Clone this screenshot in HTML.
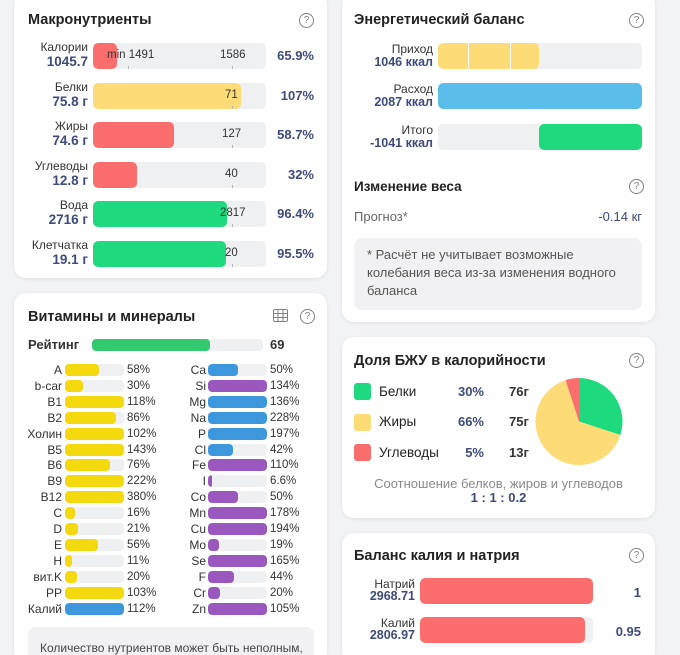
<!DOCTYPE html>
<html style="height:655px;overflow:hidden"><head><meta charset="utf-8"><style>
*{margin:0;padding:0;box-sizing:border-box}
html{background:#f2f3f5}
body{width:680px;height:655px;overflow:hidden;background:#f2f3f5;font-family:"Liberation Sans","DejaVu Sans",sans-serif;color:#333;position:relative}
.card{position:absolute;background:#fff;border-radius:12px;box-shadow:0 1px 4px rgba(0,0,0,0.08)}
.a{position:absolute;white-space:nowrap}
.t{font-size:14.5px;font-weight:bold;color:#222;line-height:18px}
.help{position:absolute;width:15px;height:15px;border:1px solid #808080;border-radius:50%;font-size:10px;line-height:13px;text-align:center;color:#808080}
.track{position:absolute;background:#eff0f2;border-radius:5px;overflow:hidden}
.fill{position:absolute;left:0;top:0;bottom:0;border-radius:5px}
.lab{font-size:12px;line-height:14px;color:#333;text-align:right}
.val{font-size:13.5px;line-height:15px;font-weight:bold;color:#3d4a7c;text-align:right}
.pct{font-size:13px;line-height:16px;font-weight:bold;color:#3d4a7c;text-align:right}
.mk{font-size:11.5px;line-height:14px;color:#333}
.tick{position:absolute;width:1px;height:3px;background:#b5b5b5}
.vl{font-size:12px;line-height:14px;color:#333;text-align:right}
.vp{font-size:11.5px;line-height:14px;color:#333}
.vt{position:absolute;height:12px;width:59px;background:#eff0f2;border-radius:4px;overflow:hidden}
.vf{position:absolute;left:0;top:0;bottom:0;border-radius:4px}
.y{background:#f4d90e}.b{background:#3c97dc}.p{background:#9a57bd}
</style></head><body>

<!-- Card 1: Макронутриенты -->
<div class="card" style="left:14px;top:-6px;width:313px;height:284px"></div>
<div class="a t" style="left:28px;top:11px">Макронутриенты</div>
<div class="help" style="left:299px;top:13px">?</div>

<div class="a lab" style="right:592px;top:40px">Калории</div>
<div class="a val" style="right:592px;top:54px">1045.7</div>
<div class="track" style="left:93px;top:43px;width:173px;height:26px"><div class="fill" style="width:24px;background:#fc6e6e"></div></div>
<div class="a mk" style="left:107px;top:48px">min 1491</div>
<div class="tick" style="left:128px;top:66px"></div>
<div class="a mk" style="left:220px;top:48px">1586</div>
<div class="tick" style="left:232px;top:66px"></div>
<div class="a pct" style="right:366px;top:48px">65.9%</div>

<div class="a lab" style="right:592px;top:79.5px">Белки</div>
<div class="a val" style="right:592px;top:93.5px">75.8 г</div>
<div class="track" style="left:93px;top:82.5px;width:173px;height:26px"><div class="fill" style="width:148px;background:#fddc77"></div></div>
<div class="a mk" style="left:225px;top:87.5px">71</div>
<div class="tick" style="left:232px;top:105.5px"></div>
<div class="a pct" style="right:366px;top:87.5px">107%</div>

<div class="a lab" style="right:592px;top:119px">Жиры</div>
<div class="a val" style="right:592px;top:133px">74.6 г</div>
<div class="track" style="left:93px;top:122px;width:173px;height:26px"><div class="fill" style="width:81px;background:#fc6e6e"></div></div>
<div class="a mk" style="left:222px;top:127px">127</div>
<div class="tick" style="left:232px;top:145px"></div>
<div class="a pct" style="right:366px;top:127px">58.7%</div>

<div class="a lab" style="right:592px;top:158.5px">Углеводы</div>
<div class="a val" style="right:592px;top:172.5px">12.8 г</div>
<div class="track" style="left:93px;top:161.5px;width:173px;height:26px"><div class="fill" style="width:44px;background:#fc6e6e"></div></div>
<div class="a mk" style="left:225px;top:166.5px">40</div>
<div class="tick" style="left:232px;top:184.5px"></div>
<div class="a pct" style="right:366px;top:166.5px">32%</div>

<div class="a lab" style="right:592px;top:198px">Вода</div>
<div class="a val" style="right:592px;top:212px">2716 г</div>
<div class="track" style="left:93px;top:201px;width:173px;height:26px"><div class="fill" style="width:134px;background:#1fd97f"></div></div>
<div class="a mk" style="left:220px;top:206px">2817</div>
<div class="tick" style="left:232px;top:224px"></div>
<div class="a pct" style="right:366px;top:206px">96.4%</div>

<div class="a lab" style="right:592px;top:237.5px">Клетчатка</div>
<div class="a val" style="right:592px;top:251.5px">19.1 г</div>
<div class="track" style="left:93px;top:240.5px;width:173px;height:26px"><div class="fill" style="width:133px;background:#1fd97f"></div></div>
<div class="a mk" style="left:225px;top:245.5px">20</div>
<div class="tick" style="left:232px;top:263.5px"></div>
<div class="a pct" style="right:366px;top:245.5px">95.5%</div>

<!-- Card 2: Витамины -->
<div class="card" style="left:14px;top:293px;width:313px;height:370px"></div>
<div class="a t" style="left:28px;top:307.5px">Витамины и минералы</div>
<svg class="a" style="left:273px;top:309px" width="15" height="13" viewBox="0 0 15 13">
<rect x="0.5" y="0.5" width="14" height="12" rx="1.5" fill="none" stroke="#808080" stroke-width="1"/>
<line x1="0.5" y1="4.5" x2="14.5" y2="4.5" stroke="#808080"/><line x1="0.5" y1="8.5" x2="14.5" y2="8.5" stroke="#808080"/>
<line x1="5" y1="0.5" x2="5" y2="12.5" stroke="#808080"/><line x1="10" y1="0.5" x2="10" y2="12.5" stroke="#808080"/>
</svg>
<div class="help" style="left:300px;top:309px">?</div>

<div class="a" style="left:28px;top:337px;font-size:13px;font-weight:bold;color:#333;line-height:16px">Рейтинг</div>
<div class="track" style="left:92px;top:339px;width:171px;height:12px;border-radius:4px"><div class="fill" style="width:118px;background:#33c96e;border-radius:4px"></div></div>
<div class="a" style="left:270px;top:337px;font-size:13px;font-weight:bold;color:#333;line-height:16px">69</div>

<div class="a" style="left:0;top:362px;width:340px">
<div style="position:relative">
<div class="a vl" style="right:278px;top:1px">A</div><div class="vt" style="left:65px;top:2px"><div class="vf y" style="width:34px"></div></div><div class="a vp" style="left:127px;top:1px">58%</div>
<div class="a vl" style="right:278px;top:16.9px">b-car</div><div class="vt" style="left:65px;top:17.9px"><div class="vf y" style="width:18px"></div></div><div class="a vp" style="left:127px;top:16.9px">30%</div>
<div class="a vl" style="right:278px;top:32.8px">B1</div><div class="vt" style="left:65px;top:33.8px"><div class="vf y" style="width:59px"></div></div><div class="a vp" style="left:127px;top:32.8px">118%</div>
<div class="a vl" style="right:278px;top:48.7px">B2</div><div class="vt" style="left:65px;top:49.7px"><div class="vf y" style="width:51px"></div></div><div class="a vp" style="left:127px;top:48.7px">86%</div>
<div class="a vl" style="right:278px;top:64.6px">Холин</div><div class="vt" style="left:65px;top:65.6px"><div class="vf y" style="width:59px"></div></div><div class="a vp" style="left:127px;top:64.6px">102%</div>
<div class="a vl" style="right:278px;top:80.5px">B5</div><div class="vt" style="left:65px;top:81.5px"><div class="vf y" style="width:59px"></div></div><div class="a vp" style="left:127px;top:80.5px">143%</div>
<div class="a vl" style="right:278px;top:96.4px">B6</div><div class="vt" style="left:65px;top:97.4px"><div class="vf y" style="width:45px"></div></div><div class="a vp" style="left:127px;top:96.4px">76%</div>
<div class="a vl" style="right:278px;top:112.3px">B9</div><div class="vt" style="left:65px;top:113.3px"><div class="vf y" style="width:59px"></div></div><div class="a vp" style="left:127px;top:112.3px">222%</div>
<div class="a vl" style="right:278px;top:128.2px">B12</div><div class="vt" style="left:65px;top:129.2px"><div class="vf y" style="width:59px"></div></div><div class="a vp" style="left:127px;top:128.2px">380%</div>
<div class="a vl" style="right:278px;top:144.1px">C</div><div class="vt" style="left:65px;top:145.1px"><div class="vf y" style="width:9.5px"></div></div><div class="a vp" style="left:127px;top:144.1px">16%</div>
<div class="a vl" style="right:278px;top:160px">D</div><div class="vt" style="left:65px;top:161px"><div class="vf y" style="width:12.5px"></div></div><div class="a vp" style="left:127px;top:160px">21%</div>
<div class="a vl" style="right:278px;top:175.9px">E</div><div class="vt" style="left:65px;top:176.9px"><div class="vf y" style="width:33px"></div></div><div class="a vp" style="left:127px;top:175.9px">56%</div>
<div class="a vl" style="right:278px;top:191.8px">H</div><div class="vt" style="left:65px;top:192.8px"><div class="vf y" style="width:6.5px"></div></div><div class="a vp" style="left:127px;top:191.8px">11%</div>
<div class="a vl" style="right:278px;top:207.7px">вит.K</div><div class="vt" style="left:65px;top:208.7px"><div class="vf y" style="width:12px"></div></div><div class="a vp" style="left:127px;top:207.7px">20%</div>
<div class="a vl" style="right:278px;top:223.6px">PP</div><div class="vt" style="left:65px;top:224.6px"><div class="vf y" style="width:59px"></div></div><div class="a vp" style="left:127px;top:223.6px">103%</div>
<div class="a vl" style="right:278px;top:239.5px">Калий</div><div class="vt" style="left:65px;top:240.5px"><div class="vf b" style="width:59px"></div></div><div class="a vp" style="left:127px;top:239.5px">112%</div>
<div class="a vl" style="right:134px;top:1px">Ca</div><div class="vt" style="left:208px;top:2px"><div class="vf b" style="width:29.5px"></div></div><div class="a vp" style="left:270px;top:1px">50%</div>
<div class="a vl" style="right:134px;top:16.9px">Si</div><div class="vt" style="left:208px;top:17.9px"><div class="vf p" style="width:59px"></div></div><div class="a vp" style="left:270px;top:16.9px">134%</div>
<div class="a vl" style="right:134px;top:32.8px">Mg</div><div class="vt" style="left:208px;top:33.8px"><div class="vf b" style="width:59px"></div></div><div class="a vp" style="left:270px;top:32.8px">136%</div>
<div class="a vl" style="right:134px;top:48.7px">Na</div><div class="vt" style="left:208px;top:49.7px"><div class="vf b" style="width:59px"></div></div><div class="a vp" style="left:270px;top:48.7px">228%</div>
<div class="a vl" style="right:134px;top:64.6px">P</div><div class="vt" style="left:208px;top:65.6px"><div class="vf b" style="width:59px"></div></div><div class="a vp" style="left:270px;top:64.6px">197%</div>
<div class="a vl" style="right:134px;top:80.5px">Cl</div><div class="vt" style="left:208px;top:81.5px"><div class="vf b" style="width:25px"></div></div><div class="a vp" style="left:270px;top:80.5px">42%</div>
<div class="a vl" style="right:134px;top:96.4px">Fe</div><div class="vt" style="left:208px;top:97.4px"><div class="vf p" style="width:59px"></div></div><div class="a vp" style="left:270px;top:96.4px">110%</div>
<div class="a vl" style="right:134px;top:112.3px">I</div><div class="vt" style="left:208px;top:113.3px"><div class="vf p" style="width:4px"></div></div><div class="a vp" style="left:270px;top:112.3px">6.6%</div>
<div class="a vl" style="right:134px;top:128.2px">Co</div><div class="vt" style="left:208px;top:129.2px"><div class="vf p" style="width:29.5px"></div></div><div class="a vp" style="left:270px;top:128.2px">50%</div>
<div class="a vl" style="right:134px;top:144.1px">Mn</div><div class="vt" style="left:208px;top:145.1px"><div class="vf p" style="width:59px"></div></div><div class="a vp" style="left:270px;top:144.1px">178%</div>
<div class="a vl" style="right:134px;top:160px">Cu</div><div class="vt" style="left:208px;top:161px"><div class="vf p" style="width:59px"></div></div><div class="a vp" style="left:270px;top:160px">194%</div>
<div class="a vl" style="right:134px;top:175.9px">Mo</div><div class="vt" style="left:208px;top:176.9px"><div class="vf p" style="width:11px"></div></div><div class="a vp" style="left:270px;top:175.9px">19%</div>
<div class="a vl" style="right:134px;top:191.8px">Se</div><div class="vt" style="left:208px;top:192.8px"><div class="vf p" style="width:59px"></div></div><div class="a vp" style="left:270px;top:191.8px">165%</div>
<div class="a vl" style="right:134px;top:207.7px">F</div><div class="vt" style="left:208px;top:208.7px"><div class="vf p" style="width:26px"></div></div><div class="a vp" style="left:270px;top:207.7px">44%</div>
<div class="a vl" style="right:134px;top:223.6px">Cr</div><div class="vt" style="left:208px;top:224.6px"><div class="vf p" style="width:12px"></div></div><div class="a vp" style="left:270px;top:223.6px">20%</div>
<div class="a vl" style="right:134px;top:239.5px">Zn</div><div class="vt" style="left:208px;top:240.5px"><div class="vf p" style="width:59px"></div></div><div class="a vp" style="left:270px;top:239.5px">105%</div>
</div></div>

<div class="a" style="left:28px;top:627px;width:286px;height:36px;background:#f1f1f3;border-radius:8px 8px 0 0"></div>
<div class="a" style="left:40px;top:640px;font-size:12px;line-height:16px;color:#444">Количество нутриентов может быть неполным,</div>

<!-- Card A: Энергетический баланс -->
<div class="card" style="left:342px;top:-6px;width:313px;height:328px"></div>
<div class="a t" style="left:354px;top:11px">Энергетический баланс</div>
<div class="help" style="left:629px;top:13px">?</div>

<div class="a lab" style="right:247px;top:42px">Приход</div>
<div class="a val" style="right:247px;top:55px;font-size:12.5px">1046 ккал</div>
<div class="track" style="left:438px;top:43px;width:204px;height:26px"><div class="fill" style="width:101px;background:#fddc77"></div>
<div style="position:absolute;left:30px;top:0;bottom:0;width:1px;background:#fff"></div>
<div style="position:absolute;left:72px;top:0;bottom:0;width:1px;background:#fff"></div></div>

<div class="a lab" style="right:247px;top:82px">Расход</div>
<div class="a val" style="right:247px;top:95px;font-size:12.5px">2087 ккал</div>
<div class="track" style="left:438px;top:83px;width:204px;height:26px"><div class="fill" style="width:204px;background:#5bbde9"></div></div>

<div class="a lab" style="right:247px;top:123px">Итого</div>
<div class="a val" style="right:247px;top:136px;font-size:12.5px">-1041 ккал</div>
<div class="track" style="left:438px;top:124px;width:204px;height:26px"><div class="fill" style="left:101px;width:103px;background:#1fd97f"></div></div>

<div class="a" style="left:354px;top:178px;font-size:13.5px;font-weight:bold;color:#222;line-height:17px">Изменение веса</div>
<div class="help" style="left:629px;top:179px">?</div>
<div class="a" style="left:354px;top:208px;font-size:13px;color:#666;line-height:17px">Прогноз*</div>
<div class="a" style="right:38px;top:208px;font-size:13px;color:#3d4a7c;line-height:17px">-0.14 кг</div>
<div class="a" style="left:354px;top:238px;width:288px;height:72px;background:#f1f1f3;border-radius:8px"></div>
<div class="a" style="left:367px;top:246px;font-size:13px;line-height:18px;color:#555;white-space:normal;width:270px">* Расчёт не учитывает возможные<br>колебания веса из-за изменения водного<br>баланса</div>

<!-- Card B: Доля БЖУ -->
<div class="card" style="left:342px;top:337px;width:313px;height:181px"></div>
<div class="a t" style="left:354px;top:352px">Доля БЖУ в калорийности</div>
<div class="help" style="left:629px;top:353px">?</div>

<div class="a" style="left:354px;top:383px;width:17px;height:17px;border-radius:3px;background:#1fd97f"></div>
<div class="a" style="left:379px;top:383.5px;font-size:13.5px;line-height:16px;color:#222">Белки</div>
<div class="a pct" style="right:196px;top:383.5px">30%</div>
<div class="a" style="left:509px;top:383.5px;font-size:13px;line-height:16px;color:#333;font-weight:bold">76г</div>

<div class="a" style="left:354px;top:413.5px;width:17px;height:17px;border-radius:3px;background:#fddc77"></div>
<div class="a" style="left:379px;top:414px;font-size:13.5px;line-height:16px;color:#222">Жиры</div>
<div class="a pct" style="right:196px;top:414px">66%</div>
<div class="a" style="left:509px;top:414px;font-size:13px;line-height:16px;color:#333;font-weight:bold">75г</div>

<div class="a" style="left:354px;top:444px;width:17px;height:17px;border-radius:3px;background:#fc6e6e"></div>
<div class="a" style="left:379px;top:444.5px;font-size:13.5px;line-height:16px;color:#222">Углеводы</div>
<div class="a pct" style="right:196px;top:444.5px">5%</div>
<div class="a" style="left:509px;top:444.5px;font-size:13px;line-height:16px;color:#333;font-weight:bold">13г</div>

<svg class="a" style="left:0;top:0" width="680" height="655" viewBox="0 0 680 655">
<path d="M579,421.5 L579,378 A43.5,43.5 0 0 1 620.37,434.94 Z" fill="#1fd97f"/>
<path d="M579,421.5 L620.37,434.94 A43.5,43.5 0 1 1 565.56,380.13 Z" fill="#fddc77"/>
<path d="M579,421.5 L565.56,380.13 A43.5,43.5 0 0 1 579,378 Z" fill="#fc6e6e"/>
</svg>

<div class="a" style="left:342px;width:313px;top:475px;text-align:center;font-size:13px;line-height:17px;color:#8a8a8a">Соотношение белков, жиров и углеводов</div>
<div class="a" style="left:342px;width:313px;top:490px;text-align:center;font-size:13px;line-height:16px;color:#3d4a7c;font-weight:bold">1 : 1 : 0.2</div>

<!-- Card C: Баланс калия и натрия -->
<div class="card" style="left:342px;top:533px;width:313px;height:130px"></div>
<div class="a t" style="left:354px;top:547px">Баланс калия и натрия</div>
<div class="help" style="left:629px;top:548px">?</div>

<div class="a lab" style="right:265px;top:577px">Натрий</div>
<div class="a val" style="right:265px;top:589px;font-size:12.5px">2968.71</div>
<div class="track" style="left:420px;top:578px;width:173px;height:25.5px"><div class="fill" style="width:173px;background:#fc6e6e"></div></div>
<div class="a pct" style="right:39px;top:584.5px">1</div>

<div class="a lab" style="right:265px;top:616px">Калий</div>
<div class="a val" style="right:265px;top:628px;font-size:12.5px">2806.97</div>
<div class="track" style="left:420px;top:617px;width:173px;height:25.5px"><div class="fill" style="width:165px;background:#fc6e6e"></div></div>
<div class="a pct" style="right:39px;top:623.5px">0.95</div>

</body></html>
